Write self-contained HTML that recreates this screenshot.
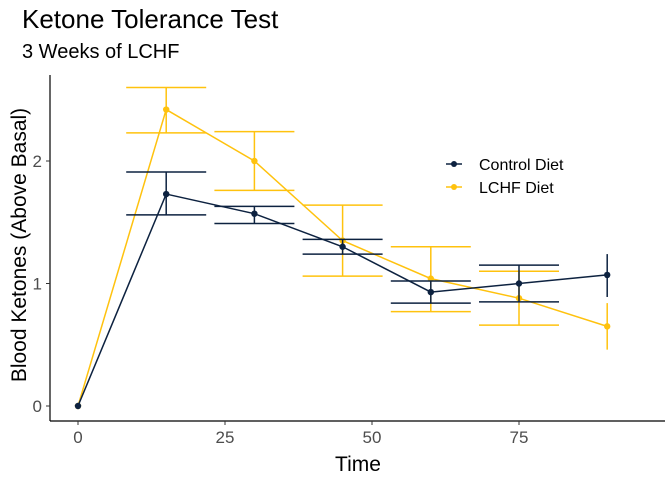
<!DOCTYPE html>
<html><head><meta charset="utf-8"><style>
body{margin:0;background:#fff;font-family:"Liberation Sans",sans-serif}
svg text{font-family:"Liberation Sans",sans-serif}
</style></head><body>
<svg id="c" width="672" height="480" xmlns="http://www.w3.org/2000/svg">
<text x="22" y="28" font-size="26" fill="#000">Ketone Tolerance Test</text>
<text x="22" y="58" font-size="20" fill="#000">3 Weeks of LCHF</text>
<line x1="50" y1="75" x2="50" y2="421" stroke="#000" stroke-width="1.2"/>
<line x1="50" y1="421" x2="665" y2="421" stroke="#000" stroke-width="1.2"/>
<text transform="translate(26,245) rotate(-90)" text-anchor="middle" font-size="21">Blood Ketones (Above Basal)</text>
<text x="358" y="471" text-anchor="middle" font-size="21">Time</text>
<g id="ticks"></g><g id="marks"></g>
<g>
<g><line x1="446" y1="164" x2="462" y2="164" stroke="#0d2240" stroke-width="1.5"/><circle cx="454" cy="164" r="3" fill="#0d2240"/><text x="479" y="170" font-size="16">Control Diet</text></g>
<g><line x1="446" y1="187" x2="462" y2="187" stroke="#ffc20e" stroke-width="1.5"/><circle cx="454" cy="187" r="3" fill="#ffc20e"/><text x="479" y="193" font-size="16">LCHF Diet</text></g>
</g>
</svg>
<script>
const times=[0,15,30,45,60,75,90];
const controlMean=[0,1.73,1.57,1.30,0.93,1.00,1.07];
const controlUpper=[0,1.91,1.63,1.36,1.02,1.15,1.24];
const controlLower=[0,1.56,1.49,1.24,0.84,0.85,0.89];
const lchfMean=[0,2.42,2.00,1.35,1.04,0.88,0.65];
const lchfUpper=[0,2.60,2.24,1.64,1.30,1.10,0.84];
const lchfLower=[0,2.23,1.76,1.06,0.77,0.66,0.46];
const xTicks=[0,25,50,75];
const yTicks=[0,1,2];
const NS="http://www.w3.org/2000/svg";
const X=t=>78+t*5.88, Y=v=>406-v*122.5;
function mk(tag,attrs,parent){const e=document.createElementNS(NS,tag);for(const k in attrs)e.setAttribute(k,attrs[k]);parent.appendChild(e);return e;}
const tk=document.getElementById('ticks'), mg=document.getElementById('marks');
xTicks.forEach(t=>{
 const l=mk('line',{x1:X(t),x2:X(t),y1:421,y2:425,stroke:'#333'},tk);
 
 
 const s=mk('text',{x:X(t),y:443,'text-anchor':'middle','font-size':17,fill:'#4d4d4d'},tk);s.textContent=t;
 
 
});
yTicks.forEach(v=>{
 const l=mk('line',{x1:46,x2:50,y1:Y(v),y2:Y(v),stroke:'#333'},tk);
 
 
 const s=mk('text',{x:42,y:Y(v)+6,'text-anchor':'end','font-size':17,fill:'#4d4d4d'},tk);s.textContent=v;
 
 
});
function series(name,color,mean,up,lo){
 const g=mk('g',{},mg);
 
 
 times.forEach((t,i)=>{
  if(up[i]===lo[i])return;
  const x=X(t);
  const eb=mk('g',{stroke:color,'stroke-width':1.5},g);
  
  
  mk('line',{x1:x,x2:x,y1:Y(up[i]),y2:Y(lo[i])},eb);
  if(t<90){[up[i],lo[i]].forEach(v=>mk('line',{x1:x-40,x2:x+40,y1:Y(v),y2:Y(v)},eb));}
 });
 const p=mk('polyline',{points:times.map((t,i)=>X(t)+','+Y(mean[i])).join(' '),fill:'none',stroke:color,'stroke-width':1.5},g);
 
 
 times.forEach((t,i)=>{
  const c=mk('circle',{cx:X(t),cy:Y(mean[i]),r:3.2,fill:color},g);
  
  
 });
}
series('lchf','#ffc20e',lchfMean,lchfUpper,lchfLower);
series('control','#0d2240',controlMean,controlUpper,controlLower);
</script>
</body></html>
